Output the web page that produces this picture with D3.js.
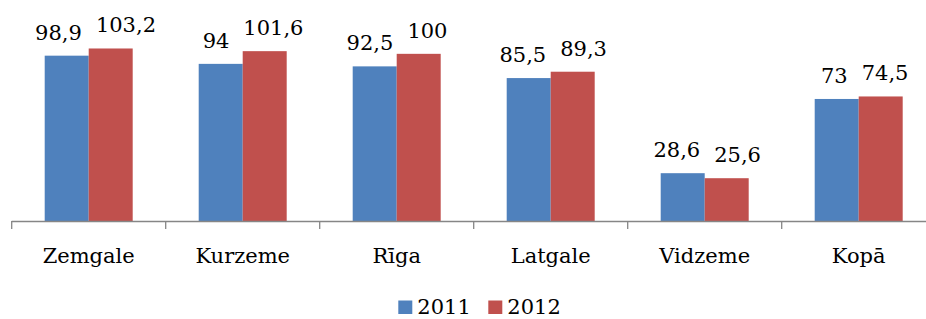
<!DOCTYPE html>
<html><head><meta charset="utf-8">
<script src="https://cdn.jsdelivr.net/npm/d3@7"></script>
</head><body style="margin:0">
<svg id="c" width="926" height="319"></svg>
<script>
const categories = ["Zemgale","Kurzeme","Rīga","Latgale","Vidzeme","Kopā"];
const seriesNames = ["2011","2012"];
const values2011 = [98.9, 94, 92.5, 85.5, 28.6, 73];
const values2012 = [103.2, 101.6, 100, 89.3, 25.6, 74.5];
const labels2011 = ["98,9","94","92,5","85,5","28,6","73"];
const labels2012 = ["103,2","101,6","100","89,3","25,6","74,5"];
const colors = ["#4F81BD","#C0504D"];

const FONT = "DejaVu Serif";
const FS = 21;
const svg = d3.select("#c");
const x0 = d3.scaleBand().domain(categories).range([11.7, 935.7]).padding(0);
const x1 = d3.scaleBand().domain(seriesNames).range([0, x0.bandwidth()]).paddingInner(0).paddingOuter(0.75);
const y = d3.scaleLinear().domain([0,120]).range([221, 20.4]);

const data = categories.map((c,i)=>({cat:c, vals:[
  {s:"2011", v:values2011[i], l:labels2011[i], col:colors[0]},
  {s:"2012", v:values2012[i], l:labels2012[i], col:colors[1]}]}));

const g = svg.selectAll("g.grp").data(data).enter().append("g")
  .attr("transform",d=>`translate(${x0(d.cat)},0)`);
g.selectAll("rect").data(d=>d.vals).enter().append("rect")
  .attr("x",d=>x1(d.s)).attr("width",x1.bandwidth())
  .attr("y",d=>y(d.v)).attr("height",d=>y(0)-y(d.v))
  .attr("fill",d=>d.col);

// category axis
const ax = svg.append("g").attr("stroke","#868686").attr("stroke-width",1.3);
ax.append("line").attr("x1",x0.range()[0]).attr("x2",x0.range()[1]).attr("y1",y(0)+0.5).attr("y2",y(0)+0.5);
const bounds = categories.map(c=>x0(c)).concat([x0.range()[1]]);
ax.selectAll("line.t").data(bounds).enter().append("line")
  .attr("x1",d=>d).attr("x2",d=>d).attr("y1",y(0)).attr("y2",y(0)+8);

svg.selectAll("text.cat").data(categories).enter().append("text").attr("class","cat")
  .attr("x",d=>x0(d)+x0.bandwidth()/2).attr("y",263).attr("text-anchor","middle")
  .attr("font-family",FONT).attr("font-size",FS).attr("fill","#000").text(d=>d);

// data labels, pushed apart when they would collide
data.forEach(d=>{
  const base = x0(d.cat);
  const ts = d.vals.map(v=>svg.append("text").attr("font-family",FONT).attr("font-size",FS)
      .attr("text-anchor","middle").attr("fill","#000")
      .attr("x", base + x1(v.s) + x1.bandwidth()/2).attr("y", y(v.v)-16).text(v.l));
  const w0 = ts[0].node().getComputedTextLength(), w1 = ts[1].node().getComputedTextLength();
  const c0 = +ts[0].attr("x"), c1 = +ts[1].attr("x");
  const overlap = (c0 + w0/2 + 14) - (c1 - w1/2);
  if (overlap > 0) {
    ts[0].attr("x", c0 - overlap*0.35);
    ts[1].attr("x", c1 + overlap*0.65);
  }
});

// legend
const legX = [398.3, 488.3];
seriesNames.forEach((s,i)=>{
  svg.append("rect").attr("x",legX[i]).attr("y",300.5).attr("width",14).attr("height",13.5).attr("fill",colors[i]);
  svg.append("text").attr("x",legX[i]+19).attr("y",314).attr("font-family",FONT)
    .attr("font-size",FS).attr("fill","#000").text(s);
});
</script>
</body></html>
